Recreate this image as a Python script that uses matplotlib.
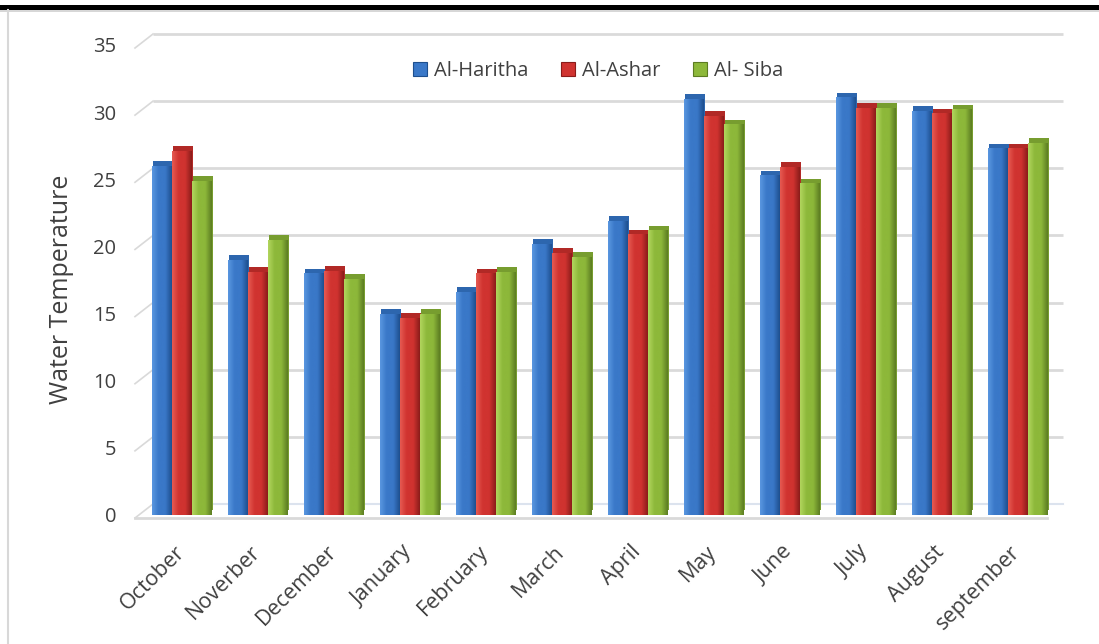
import numpy as np
import matplotlib
matplotlib.use("Agg")
import matplotlib.pyplot as plt
import matplotlib.patheffects as pe
from matplotlib.colors import LinearSegmentedColormap, to_rgb
from matplotlib.lines import Line2D
import matplotlib.transforms as mtransforms

plt.rcParams['font.family'] = ['Open Sans', 'DejaVu Sans']

months = ["October", "Noverber", "December", "January", "February", "March",
          "April", "May", "June", "July", "August", "september"]
series_names = ["Al-Haritha", "Al-Ashar", "Al- Siba"]
al_haritha = [26.0, 19.0, 18.0, 15.0, 16.6, 20.2, 21.9, 31.0, 25.3, 31.1, 30.1, 27.3]
al_ashar = [27.1, 18.1, 18.2, 14.7, 18.0, 19.5, 20.9, 29.7, 25.9, 30.3, 29.9, 27.3]
al_siba = [24.9, 20.5, 17.6, 15.0, 18.1, 19.2, 21.2, 29.1, 24.7, 30.3, 30.2, 27.7]
y_ticks = [0, 5, 10, 15, 20, 25, 30, 35]
y_label = "Water Temperature"

series = [al_haritha, al_ashar, al_siba]
# (light, mid, dark)
palettes = [("#5A97E0", "#3A78C8", "#1E4F8E"),
            ("#E65A52", "#D03330", "#8A1C1A"),
            ("#B2D65E", "#8DB83A", "#5C7C22")]

W, H = 1099, 644
fig = plt.figure(figsize=(W / 100, H / 100), dpi=100)
ax_l, ax_r, ax_b, ax_t = 144, 1056, 515, 45
ax = fig.add_axes([ax_l / W, 1 - ax_b / H, (ax_r - ax_l) / W, (ax_b - ax_t) / H])

ymax = 35
px = ymax / (ax_b - ax_t)  # data units per pixel
axw = ax_r - ax_l

x = np.arange(len(months))
bw = 0.263
offsets = [-bw, 0, bw]

# back-wall gridlines with 3D stub on the left
ytr = ax.get_yaxis_transform()
for v in y_ticks:
    if v == 0:
        continue
    ax.plot([(153 - ax_l) / axw, (1063 - ax_l) / axw], [v + 11 * px, v + 11 * px],
            transform=ytr, color="#DADADA", lw=2.0, zorder=1, clip_on=False,
            solid_capstyle="butt")
    ax.plot([(135 - ax_l) / axw, (153 - ax_l) / axw], [v - 3 * px, v + 11 * px],
            transform=ytr, color="#D9D9D9", lw=1.2, zorder=1, clip_on=False)
# back floor line
ax.plot([(153 - ax_l) / axw, (1063 - ax_l) / axw], [11 * px, 11 * px],
        transform=ytr, color="#DCE3EE", lw=1.5, zorder=1, clip_on=False)
# front floor line
ax.plot([(135 - ax_l) / axw, (1047 - ax_l) / axw], [-3 * px, -3 * px],
        transform=ytr, color="#D9D9D9", lw=2.0, zorder=4, clip_on=False)
ax.plot([(135 - ax_l) / axw, (153 - ax_l) / axw], [-3 * px, 11 * px],
        transform=ytr, color="#D9D9D9", lw=1.2, zorder=1, clip_on=False)

grad = np.linspace(0, 1, 64).reshape(1, -1)
for s, (vals, off, pal) in enumerate(zip(series, offsets, palettes)):
    light, mid, dark = pal
    cap = tuple(0.55 * a + 0.45 * b for a, b in zip(to_rgb(mid), to_rgb(dark)))
    cmap = LinearSegmentedColormap.from_list(f"c{s}", [light, mid, mid, dark])
    bars = ax.bar(x + off, vals, bw, color=mid, zorder=3 + s * 0.1, linewidth=0,
                  label=series_names[s])
    for p in bars:
        p.set_path_effects([pe.SimplePatchShadow(offset=(1.0, 3.4), shadow_rgbFace=cap,
                                                 alpha=1.0), pe.Normal()])
        x0 = p.get_x()
        im = ax.imshow(grad, extent=[x0, x0 + p.get_width(), 0, p.get_height()],
                       aspect="auto", cmap=cmap, zorder=3 + s * 0.1 + 0.05,
                       interpolation="bicubic")
        im.set_clip_path(p)

ax.set_xlim(-0.5, len(months) - 0.5)
ax.set_ylim(0, ymax)
ax.set_aspect("auto")
for sp in ax.spines.values():
    sp.set_visible(False)
ax.set_yticks(y_ticks)
ax.set_yticklabels([str(v) for v in y_ticks], fontsize=14.5, color="#404040")
ax.tick_params(axis="y", length=0, pad=20)
ax.set_xticks(x)
ax.set_xticklabels(months, rotation=45, ha="right", rotation_mode="anchor",
                   fontsize=15.5, color="#404040")
ax.tick_params(axis="x", length=0, pad=19)
shift = mtransforms.ScaledTranslation(-8 / 100, 0, fig.dpi_scale_trans)
for lab in ax.get_xticklabels():
    lab.set_transform(lab.get_transform() + shift)
ax.patch.set_visible(False)

fig.text(62 / W, 1 - 289 / H, y_label, rotation=90, ha="center", va="center",
         fontsize=18, color="#404040")

handles = [plt.Rectangle((0, 0), 1, 1, facecolor=pal[1], edgecolor=pal[2], lw=0.8)
           for pal in palettes]
fig.legend(handles, series_names, loc="center", bbox_to_anchor=(598 / W, 1 - 71 / H),
           ncol=3, frameon=False, fontsize=14.5, handlelength=0.7, handleheight=0.7,
           handletextpad=0.35, columnspacing=1.6, labelcolor="#404040")

# page borders
fig.add_artist(plt.Rectangle((0, 1 - 9.5 / H), 1, 4.5 / H, transform=fig.transFigure,
                             facecolor="black", edgecolor="none"))
fig.add_artist(Line2D([0, 1], [1 - 10.5 / H, 1 - 10.5 / H], transform=fig.transFigure,
                      color="#D0D0D0", lw=1.2))
fig.add_artist(Line2D([7.5 / W, 7.5 / W], [0, 1 - 10 / H], transform=fig.transFigure,
                      color="#D8D8D8", lw=1.5))

fig.savefig("out.png", dpi=100)
